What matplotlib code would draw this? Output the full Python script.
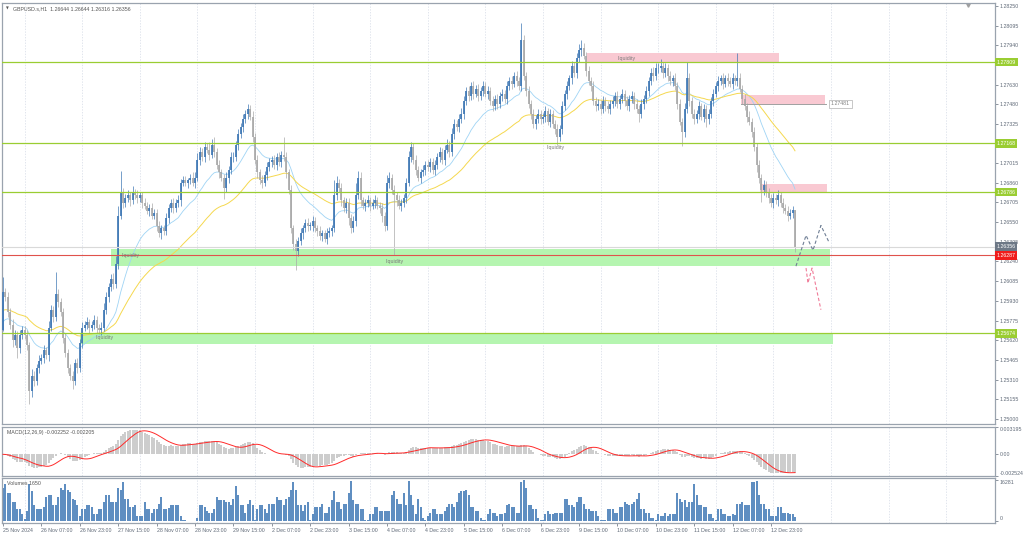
import numpy as np
import pandas as pd
import matplotlib
matplotlib.use('Agg')
import matplotlib.pyplot as plt
import matplotlib.transforms as mtransforms
from matplotlib.patches import Rectangle

plt.rcParams['font.family'] = ['Liberation Sans', 'DejaVu Sans']

# ---- price data (GBPUSD H1), closes in pips above 1.25000 ----
BASE = 1.25000
first_open_pips = 70
close_pips = [
    100, 96, 84, 74, 62, 66, 56, 66, 70, 66, 58, 22, 34, 30, 40, 46,
    48, 54, 50, 72, 86, 80, 98, 92, 84, 64, 52, 40, 34, 30, 44, 40,
    60, 72, 74, 76, 72, 74, 78, 72, 70, 72, 86, 96, 104, 110, 106, 122,
    160, 178, 170, 174, 176, 172, 178, 176, 174, 176, 170, 168, 164, 166, 160, 162,
    152, 146, 150, 148, 158, 166, 170, 166, 170, 172, 186, 188, 186, 188, 190, 186,
    190, 204, 210, 206, 214, 212, 208, 216, 210, 200, 194, 190, 182, 190, 196, 206,
    206, 216, 224, 230, 236, 240, 244, 238, 222, 204, 194, 188, 186, 192, 198, 202,
    204, 200, 206, 202, 208, 206, 194, 180, 150, 138, 132, 140, 146, 150, 154, 152,
    152, 156, 150, 148, 144, 146, 142, 146, 148, 150, 176, 186, 182, 172, 166, 170,
    158, 150, 156, 176, 190, 172, 168, 170, 172, 168, 170, 172, 168, 166, 160, 152,
    186, 190, 180, 176, 172, 168, 170, 174, 186, 206, 214, 204, 196, 190, 194, 196,
    200, 198, 202, 196, 200, 206, 210, 204, 212, 216, 210, 224, 232, 230, 236, 240,
    250, 258, 254, 262, 256, 260, 254, 258, 262, 256, 258, 250, 246, 252, 248, 254, 256,
    252, 262, 266, 264, 270, 266, 262, 298, 270, 258, 248, 240, 232, 236, 240, 236,
    238, 242, 234, 240, 232, 228, 222, 228, 246, 256, 262, 268, 278, 272, 284, 290,
    292, 286, 274, 266, 262, 250, 246, 248, 244, 250, 246, 244, 248, 250, 254, 248,
    252, 256, 250, 246, 252, 254, 248, 244, 240, 248, 252, 258, 266, 272, 270, 276,
    276, 278, 272, 276, 270, 266, 268, 262, 248, 234, 226, 244, 268, 250, 240, 236,
    240, 246, 238, 244, 236, 240, 250, 256, 262, 266, 268, 264, 268, 266, 264, 268, 266,
    268, 260, 252, 246, 238, 234, 226, 214, 200, 190, 180, 184, 178, 174, 170, 174,
    172, 176, 170, 166, 164, 160, 162, 164.4, 135.6,
]
# wick lengths in pips above / below the body
wick_up = [
    12, 3, 4, 3, 5, 4, 3, 4, 3, 3, 4, 3, 5, 4, 3, 4,
    3, 4, 3, 5, 4, 3, 18, 4, 3, 3, 4, 3, 3, 4, 3, 4,
    3, 4, 3, 4, 3, 3, 4, 3, 3, 4, 5, 4, 3, 4, 5, 6,
    8, 17, 4, 3, 4, 3, 5, 3, 4, 3, 3, 4, 3, 3, 4, 3,
    3, 4, 3, 3, 4, 3, 3, 4, 3, 4, 3, 3, 3, 2, 3, 4,
    4, 5, 4, 3, 4, 3, 6, 4, 6, 3, 4, 3, 3, 4, 3, 4,
    4, 3, 4, 3, 4, 3, 4, 3, 4, 3, 4, 3, 4, 3, 4, 3,
    3, 4, 3, 4, 3, 14, 4, 3, 4, 3, 4, 3, 4, 3, 3, 4,
    3, 4, 3, 3, 4, 3, 3, 4, 3, 3, 12, 5, 3, 4, 3, 4,
    4, 3, 4, 10, 5, 4, 3, 3, 4, 3, 3, 4, 3, 3, 4, 3,
    6, 4, 3, 4, 3, 4, 3, 3, 4, 5, 4, 3, 4, 3, 3, 4,
    3, 4, 3, 3, 4, 3, 4, 3, 4, 4, 3, 5, 4, 3, 4, 5,
    4, 3, 4, 3, 4, 3, 4, 3, 4, 3, 4, 3, 4, 3, 4, 3, 4,
    3, 4, 3, 4, 3, 4, 3, 14, 4, 3, 4, 3, 4, 3, 4, 3,
    3, 4, 3, 4, 3, 3, 4, 3, 4, 3, 4, 3, 4, 3, 4, 5,
    6, 4, 3, 4, 3, 4, 3, 4, 3, 4, 3, 4, 3, 4, 3, 4,
    3, 4, 3, 4, 3, 4, 3, 4, 3, 4, 3, 4, 3, 4, 5, 4,
    4, 5, 3, 4, 3, 4, 3, 4, 3, 4, 3, 5, 13, 4, 3, 4,
    3, 4, 3, 4, 3, 4, 3, 4, 3, 4, 3, 4, 3, 4, 3, 4, 3,
    20, 4, 3, 4, 3, 4, 3, 4, 3, 4, 3, 4, 3, 4, 3, 4,
    3, 4, 3, 4, 3, 4, 3, 3, 0,
]
wick_dn = [
    1, 3, 4, 3, 5, 4, 8, 4, 3, 3, 4, 10, 5, 4, 3, 4,
    3, 4, 3, 4, 3, 4, 3, 4, 3, 4, 3, 4, 3, 6, 3, 4,
    3, 4, 3, 3, 4, 3, 3, 4, 3, 4, 3, 3, 4, 3, 4, 3,
    4, 3, 4, 3, 3, 4, 3, 3, 4, 3, 4, 3, 3, 4, 3, 3,
    4, 3, 4, 3, 3, 4, 3, 4, 3, 3, 4, 3, 3, 4, 3, 3,
    4, 3, 4, 3, 4, 3, 4, 3, 4, 3, 4, 3, 9, 3, 4, 3,
    4, 3, 4, 3, 4, 3, 4, 3, 4, 3, 4, 3, 4, 3, 4, 3,
    4, 3, 4, 3, 4, 3, 4, 3, 4, 5, 15, 4, 3, 4, 3, 4,
    3, 4, 3, 4, 3, 4, 3, 4, 3, 4, 3, 4, 3, 4, 3, 4,
    5, 4, 3, 4, 3, 4, 3, 4, 3, 4, 3, 4, 3, 4, 5, 4,
    3, 4, 3, 47, 4, 3, 4, 3, 4, 3, 4, 3, 4, 3, 4, 3,
    4, 3, 4, 3, 4, 3, 4, 3, 4, 3, 4, 3, 4, 3, 4, 3,
    4, 3, 4, 3, 4, 3, 4, 3, 4, 3, 4, 3, 4, 3, 4, 3, 4,
    3, 4, 3, 4, 3, 4, 3, 4, 3, 4, 3, 4, 3, 4, 3, 4,
    3, 4, 3, 4, 3, 4, 6, 3, 4, 3, 4, 3, 4, 3, 4, 3,
    4, 3, 4, 3, 4, 3, 4, 3, 4, 3, 4, 3, 4, 3, 4, 3,
    4, 3, 4, 3, 4, 3, 4, 3, 6, 3, 4, 3, 4, 3, 4, 3,
    4, 3, 4, 3, 4, 3, 4, 3, 4, 3, 11, 4, 3, 4, 3, 4,
    3, 4, 3, 4, 6, 4, 3, 4, 3, 4, 3, 4, 3, 4, 3, 4, 3,
    4, 3, 4, 3, 4, 3, 4, 3, 6, 4, 9, 4, 3, 4, 3, 4,
    3, 4, 3, 4, 3, 4, 3, 4, 4,
]
# tick volumes in thousands
volumes_k = [
    13.2, 14.6, 11.1, 11.1, 7.6, 7.6, 4.9, 4.9, 2.8, 0.9, 4.2, 14.6, 11.8, 6.3, 4.9, 4.9,
    4.9, 5.6, 9.7, 10.4, 10.4, 6.3, 6.3, 9.7, 13.2, 12.5, 14.6, 12.5, 11.5, 9.0, 8.5, 6.3,
    2.1, 4.9, 4.9, 6.3, 6.3, 5.6, 2.8, 2.8, 4.9, 4.9, 7.6, 10.4, 10.4, 7.6, 7.6, 7.6,
    13.2, 12.5, 15.3, 9.0, 9.0, 5.6, 5.6, 6.3, 2.1, 2.1, 2.1, 7.6, 4.9, 4.9, 3.5, 4.9,
    4.9, 7.0, 9.7, 4.9, 4.9, 5.2, 6.5, 6.5, 6.5, 6.5, 2.1, 0.7, 0.5, 0.3, 0.3, 0.3,
    0.3, 1.4, 6.3, 6.3, 5.6, 4.2, 3.5, 3.5, 4.9, 9.7, 8.4, 8.4, 8.4, 7.6, 7.6, 6.3,
    9.0, 13.9, 10.4, 6.3, 6.3, 3.5, 7.0, 8.4, 6.3, 0.7, 4.9, 6.3, 6.3, 4.9, 3.5, 7.0,
    7.0, 7.0, 9.7, 8.4, 8.4, 6.3, 9.0, 9.7, 12.5, 15.3, 12.5, 6.3, 6.3, 4.2, 6.3, 7.6,
    0.7, 2.8, 5.6, 5.6, 5.6, 7.0, 3.5, 3.5, 5.6, 8.4, 11.8, 7.6, 7.6, 4.9, 7.0, 7.0,
    11.1, 16.0, 8.4, 7.0, 7.0, 4.9, 4.9, 0.7, 0.7, 2.8, 2.8, 5.6, 5.6, 4.2, 4.2, 4.2,
    4.2, 4.2, 10.4, 11.8, 9.0, 7.0, 7.0, 11.1, 6.3, 16.0, 10.4, 6.3, 2.8, 9.0, 5.6, 1.4,
    0.7, 2.1, 3.5, 4.9, 4.9, 2.8, 2.8, 2.8, 4.2, 5.6, 7.0, 7.0, 5.6, 7.6, 11.1, 11.8,
    11.8, 12.5, 10.4, 5.6, 5.6, 4.2, 4.2, 1.4, 0.7, 0.7, 2.8, 4.9, 3.5, 3.5, 2.1, 2.8, 3.0,
    3.5, 6.3, 7.0, 5.6, 5.6, 3.5, 3.5, 15.3, 16.281, 13.2, 6.3, 6.3, 4.9, 4.9, 1.4, 0.7,
    0.7, 2.8, 4.2, 2.8, 2.8, 3.5, 3.5, 3.5, 3.5, 9.0, 9.0, 6.3, 6.3, 5.6, 7.6, 9.7,
    9.7, 7.0, 4.9, 4.9, 4.2, 4.2, 4.2, 2.1, 0.7, 0.7, 0.7, 4.9, 4.9, 4.9, 3.5, 3.5,
    5.6, 5.6, 7.6, 7.0, 6.3, 7.0, 7.6, 9.0, 11.1, 4.9, 4.9, 3.5, 3.5, 1.4, 1.4, 0.7,
    2.8, 2.1, 2.1, 3.5, 2.1, 2.8, 2.8, 2.8, 11.1, 9.0, 7.6, 8.3, 5.6, 7.6, 7.6, 14.6,
    10.4, 6.3, 6.3, 5.6, 5.6, 2.8, 2.8, 1.4, 0.7, 4.9, 4.9, 2.8, 2.8, 2.1, 2.1, 2.8, 2.5,
    7.0, 7.0, 7.6, 6.3, 6.3, 6.3, 15.3, 15.3, 16.0, 10.4, 7.0, 7.0, 4.9, 4.9, 2.1, 2.1,
    2.1, 5.6, 5.6, 3.5, 3.5, 3.5, 2.8, 2.8, 1.65,
]

# moving-average values at the first visible bar
ma_fast_start = 1.2574
ma_slow_start = 1.2585

# horizontal levels
lime_levels = [1.27809, 1.27168, 1.26786, 1.25674]
red_level = 1.26287
bid_level = 1.26356
marked_level = 1.27481

# zones: (first bar, last bar, low, high)
pink_zones = [(243.3, 323.3, 1.27809, 1.27883),
              (307.5, 342.5, 1.27481, 1.27551),
              (315.4, 343.3, 1.26781, 1.26852)]
green_zones = [(45.0, 344.6, 1.26203, 1.26336),
               (32.0, 346.0, 1.25594, 1.25674)]
liquidity_bars = [256.0, 226.7, 49.6, 159.6, 38.8]
liquidity_prices = [1.27836, 1.27133, 1.26287, 1.26242, 1.25640]

# projected paths
proj_up_bars = [330.4, 334.6, 337.5, 340.8, 344.2]
proj_up_prices = [1.26203, 1.26445, 1.26328, 1.26523, 1.26390]
proj_dn_bars = [334.6, 335.4, 337.1, 340.8]
proj_dn_prices = [1.26188, 1.26070, 1.26188, 1.25860]

price_ticks = [1.28250, 1.28095, 1.27940, 1.27785, 1.27630, 1.27480, 1.27325, 1.27170,
               1.27015, 1.26860, 1.26705, 1.26550, 1.26395, 1.26240, 1.26085, 1.25930,
               1.25775, 1.25620, 1.25465, 1.25310, 1.25155, 1.25000]

# ---- derived series ----
n = len(close_pips)
x = np.arange(n)
closes = BASE + np.array(close_pips) / 1e4
opens = np.concatenate([[BASE + first_open_pips / 1e4], closes[:-1]])
highs = np.maximum(opens, closes) + np.array(wick_up) / 1e4
lows = np.minimum(opens, closes) - np.array(wick_dn) / 1e4
volumes = np.array(volumes_k) * 1000

times = pd.date_range('2024-11-25 15:00', periods=600, freq='h')
times = times[times.weekday < 5][:n]


def ema(values, period, start):
    out = np.empty(len(values))
    k = 2.0 / (period + 1)
    prev = start
    for i, v in enumerate(values):
        prev = prev + k * (v - prev)
        out[i] = prev
    return out


ma_fast = ema(closes, 20, ma_fast_start)
ma_slow = ema(closes, 50, ma_slow_start)
macd = ema(closes, 12, closes[0]) - ema(closes, 26, closes[0])
signal = pd.Series(macd).rolling(9, min_periods=1).mean().values

# ---- figure ----
W, H = 1024, 537
fig = plt.figure(figsize=(W / 100, H / 100), dpi=100)
ax = fig.add_axes([2 / W, (H - 424) / H, 993 / W, 421 / H])
ax_m = fig.add_axes([2 / W, (H - 476) / H, 993 / W, 49 / H], sharex=ax)
ax_v = fig.add_axes([2 / W, (H - 523) / H, 993 / W, 45 / H], sharex=ax)

FS = 3.8
TXT = '#5f6977'
FRAME = '#9aa3ae'
BLUE = '#3f78b5'
GREY = '#a9a9a9'

for a in (ax, ax_m, ax_v):
    for s in a.spines.values():
        s.set_color(FRAME)
        s.set_linewidth(0.9)
    a.yaxis.tick_right()
    a.tick_params(axis='y', labelsize=FS, colors=TXT, length=2, width=0.5, pad=1.5)
    a.tick_params(axis='x', labelsize=FS, colors=TXT, length=2, width=0.5, pad=1.5)
    for d in range(9, 420, 24):
        a.axvline(d, color='#d5dbe6', lw=0.5, ls=(0, (2, 2)), zorder=0)

ax.set_xlim(-1 / 2.4, 992 / 2.4)
ax.set_ylim(1.2825 - 421 / 12800, 1.2825 + 3 / 12800)

# zones
for x0, x1, p0, p1 in pink_zones:
    ax.add_patch(Rectangle((x0, p0), x1 - x0, p1 - p0, fc='#f9c9d2', ec='none', zorder=1))
for x0, x1, p0, p1 in green_zones:
    ax.add_patch(Rectangle((x0, p0), x1 - x0, p1 - p0, fc='#b5f5b0', ec='none', zorder=1))

# moving averages
ax.plot(x, ma_fast, color='#9fd4f5', lw=0.6, zorder=2)
ax.plot(x, ma_slow, color='#f5d84e', lw=0.7, zorder=2)

# candles
up = closes >= opens
body_lo = np.minimum(opens, closes)
body_hi = np.maximum(np.maximum(opens, closes), body_lo + 0.00003)
for mask, col in [(up, BLUE), (~up, GREY)]:
    ax.vlines(x[mask], lows[mask], highs[mask], color=col, lw=0.5, zorder=3)
    ax.vlines(x[mask], body_lo[mask], body_hi[mask], color=col, lw=1.25, zorder=4)

# horizontal lines
for lv in lime_levels:
    ax.axhline(lv, color='#9acd32', lw=0.9, zorder=5)
ax.axhline(bid_level, color='#d9d9d9', lw=0.8, zorder=5)
ax.axhline(red_level, color='#e0524c', lw=0.8, zorder=5)
ax.plot([307.5, 343.0], [marked_level, marked_level], color='#a0a0a0', lw=0.7, zorder=5)
ax.text(345, marked_level, '1.27481', fontsize=FS, color='#808080', va='center', ha='left',
        zorder=6, bbox=dict(boxstyle='square,pad=0.3', fc='white', ec='#b0b0b0', lw=0.5))

# projections
ax.plot(proj_up_bars, proj_up_prices, color='#6f7f95', lw=0.8, ls=(0, (3, 2)), zorder=6)
ax.plot(proj_dn_bars, proj_dn_prices, color='#f07b98', lw=0.8, ls=(0, (3, 2)), zorder=6)

for bx, py in zip(liquidity_bars, liquidity_prices):
    ax.text(bx, py, 'liquidity', fontsize=FS, color='#7a7a7a', ha='left', va='center', zorder=7)

# price axis (labels hidden under the level tags are left out, as on the terminal)
tags = [(lv, '#9acd32') for lv in lime_levels] + [(bid_level, '#6d7886'), (red_level, '#f01c1c')]
ax.set_yticks(price_ticks)
ax.set_yticklabels(['' if any(abs(p - lv) < 0.00035 for lv, _ in tags) else f'{p:.5f}'
                    for p in price_ticks])
trans = mtransforms.blended_transform_factory(ax.transAxes, ax.transData)
for lv, col in tags:
    ax.text(1.0 + 1.5 / 993, lv, f'{lv:.5f}', transform=trans, fontsize=FS, color='white',
            ha='left', va='center', clip_on=False, zorder=10,
            bbox=dict(boxstyle='square,pad=0.35', fc=col, ec='none'))

ax.text(4 / 993, 1 - 6 / 421, '\u25bc', transform=ax.transAxes, fontsize=2.6, color='#555555',
        family=['DejaVu Sans'], va='center', ha='left')
ax.text(11 / 993, 1 - 6 / 421, 'GBPUSD.s,H1  1.26644 1.26644 1.26316 1.26356',
        transform=ax.transAxes, fontsize=FS, color='#555555', va='center', ha='left')
ax.plot([966 / 993], [1 - 1.5 / 421], marker='v', ms=2.5, color='#a0a0a0',
        transform=ax.transAxes, clip_on=False)
plt.setp(ax.get_xticklabels(), visible=False)
ax.tick_params(axis='x', length=0)

# MACD panel
ax_m.vlines(x, 0, macd, color='#c6c6c6', lw=1.25, zorder=2)
ax_m.plot(x, signal, color='#ff2a2a', lw=0.7, zorder=3)
ax_m.set_ylim(-0.00257, 0.00324)
ax_m.set_yticks([0.003195, 0.0, -0.002524])
ax_m.set_yticklabels(['0.003195', '0.00', '-0.002524'])
ylbl = ax_m.get_yticklabels()
ylbl[0].set_va('top')
ylbl[2].set_va('bottom')
ax_m.text(5 / 993, 0.93, 'MACD(12,26,9) -0.002252 -0.002205', transform=ax_m.transAxes,
          fontsize=FS, color='#555555', va='top', ha='left')
plt.setp(ax_m.get_xticklabels(), visible=False)
ax_m.tick_params(axis='x', length=0)

# volume panel
ax_v.vlines(x, 0, volumes, color=BLUE, lw=1.2, zorder=2)
ax_v.set_ylim(-600, 17066)
ax_v.set_yticks([16281, 0])
ax_v.set_yticklabels(['16281', '0'])
vl = ax_v.get_yticklabels()
vl[0].set_va('top')
vl[1].set_va('bottom')
ax_v.text(5 / 993, 0.93, 'Volumes 1650', transform=ax_v.transAxes,
          fontsize=FS, color='#555555', va='top', ha='left')

tick_idx = list(range(0, n, 16))
tick_lbl = ['25 Nov 2024' if i == 0 else f"{times[i].day} {times[i].strftime('%b %H:%M')}"
            for i in tick_idx]
ax_v.set_xticks(tick_idx)
ax_v.set_xticklabels(tick_lbl)
for t in ax_v.get_xticklabels():
    t.set_ha('left')

fig.savefig('out.png', dpi=100, facecolor='white')
